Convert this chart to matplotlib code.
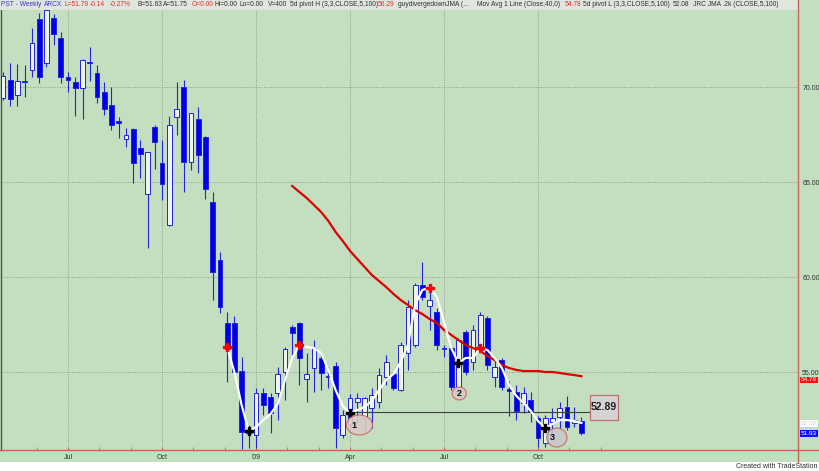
import matplotlib
matplotlib.use("Agg")
import matplotlib.pyplot as plt
from matplotlib.patches import Rectangle, Ellipse
from matplotlib.lines import Line2D
import matplotlib.transforms as mtransforms

plt.rcParams['font.family'] = ['Liberation Sans', 'DejaVu Sans']

# weekly OHLC, PST (Apr 2008 .. Nov 2009)
opens = [69.42, 70.37, 69.58, 70.32, 70.89, 73.58, 71.26, 73.63, 72.58, 70.53,
         70.26, 69.95, 71.32, 70.74, 69.74, 69.05, 68.20, 67.26, 67.79, 66.79,
         64.37, 67.90, 66.00, 62.74, 68.42, 70.00, 66.05, 68.30, 67.37, 63.95,
         60.89, 57.58, 57.58, 55.05, 51.95, 51.68, 53.90, 53.68, 53.90, 55.00,
         57.37, 57.58, 54.63, 55.21, 55.74, 54.79, 55.32, 51.68, 52.26, 53.42,
         52.58, 53.10, 53.42, 54.74, 54.90, 54.05, 56.00, 56.42, 59.58, 58.47,
         58.16, 56.26, 56.26, 54.21, 57.10, 55.53, 56.16, 57.84, 54.74, 55.63,
         54.10, 53.95, 53.37, 53.53, 52.58, 51.26, 52.37, 52.63, 53.16, 52.32,
         52.42]
highs = [70.79, 71.26, 71.20, 71.16, 73.10, 73.90, 74.20, 73.84, 72.90, 70.79,
         70.53, 71.45, 72.10, 71.16, 70.26, 70.00, 68.42, 67.84, 67.84, 67.20,
         66.60, 68.00, 67.20, 68.50, 70.26, 70.37, 68.65, 68.95, 67.40, 64.47,
         61.32, 58.16, 57.95, 55.79, 52.20, 54.16, 54.16, 53.90, 55.26, 56.32,
         57.47, 57.63, 56.00, 56.68, 56.05, 55.26, 55.53, 53.00, 53.84, 53.90,
         53.68, 54.16, 55.21, 55.90, 55.00, 56.58, 58.79, 59.70, 60.79, 59.42,
         58.37, 56.42, 56.37, 56.79, 57.20, 57.47, 58.16, 57.95, 55.63, 55.74,
         54.53, 54.32, 54.20, 53.95, 52.70, 52.74, 53.10, 53.42, 53.74, 53.16,
         52.63]
lows = [69.32, 69.00, 69.00, 69.47, 70.53, 70.20, 71.05, 72.20, 70.20, 69.74,
        68.47, 68.30, 70.30, 69.16, 68.53, 67.74, 67.32, 66.84, 64.95, 65.20,
        61.53, 65.68, 64.05, 62.70, 67.47, 64.47, 65.63, 65.47, 64.10, 58.80,
        58.10, 54.47, 54.84, 50.95, 51.00, 51.00, 52.74, 51.79, 52.47, 53.53,
        55.90, 54.30, 53.42, 53.95, 54.05, 54.16, 51.00, 51.53, 51.84, 52.32,
        51.95, 52.05, 53.10, 54.32, 54.05, 54.00, 55.10, 56.30, 58.80, 57.20,
        56.16, 55.80, 54.05, 54.20, 54.84, 55.10, 56.05, 55.10, 54.21, 54.05,
        52.68, 52.47, 52.84, 52.37, 51.05, 51.05, 51.58, 51.95, 51.95, 52.10,
        51.68]
closes = [70.58, 69.37, 70.32, 70.26, 72.32, 70.53, 74.05, 72.79, 70.53, 70.37,
          69.95, 71.42, 71.26, 69.47, 68.84, 68.00, 68.12, 67.47, 66.00, 66.47,
          66.58, 67.10, 64.90, 68.00, 68.84, 66.05, 68.63, 66.42, 64.63, 60.26,
          58.42, 56.20, 55.00, 51.84, 51.80, 53.90, 53.26, 52.84, 54.90, 56.21,
          57.05, 55.74, 54.90, 56.26, 54.95, 54.74, 52.05, 52.74, 53.63, 53.63,
          53.63, 53.79, 54.84, 55.53, 54.16, 56.42, 58.42, 59.58, 58.95, 58.79,
          56.42, 56.20, 54.21, 56.68, 55.00, 57.20, 58.00, 55.37, 55.26, 54.21,
          54.00, 52.95, 53.90, 52.90, 51.53, 52.58, 52.58, 53.10, 52.10, 52.47,
          51.79]

# Mov Avg 1 Line (Close,40,0), starts at bar 40
ma_start = 40
ma40 = [64.79, 64.47, 64.16, 63.79, 63.42, 62.95, 62.37, 61.89, 61.37, 60.95,
        60.53, 60.11, 59.79, 59.47, 59.11, 58.79, 58.53, 58.26, 58.05, 57.79,
        57.58, 57.21, 56.95, 56.68, 56.42, 56.26, 56.11, 55.84, 55.63, 55.37,
        55.21, 55.11, 55.05, 55.05, 55.05, 55.00, 55.00, 54.95, 54.89, 54.84,
        54.78]

# JRC JMA line, starts at bar 31
jma_start = 31
jma = [56.32, 55.00, 53.26, 51.89, 52.11, 52.47, 52.79, 53.32, 54.58, 55.74,
       56.42, 56.32, 56.26, 56.00, 55.11, 54.05, 53.21, 52.84, 53.00, 53.16,
       53.47, 54.05, 54.58, 54.89, 55.53, 56.42, 58.53, 59.32, 59.42, 58.95,
       57.63, 56.26, 55.47, 55.74, 55.74, 56.26, 56.16, 55.74, 55.21, 54.32,
       53.74, 53.37, 52.95, 52.42, 52.05, 52.26, 52.47, 52.47, 52.42, 52.32]

pivot_high_idx = [31, 41, 59, 66]
pivot_low_idx = [34, 48, 63, 75]

support_level = 52.89
support_from = 48
support_to = 84.9

# circled labels 1,2,3 (centre bar, centre value, width, height)
circle_labels = ['1', '2', '3']
circle_x = [49.3, 63.1, 76.6]
circle_y = [52.21, 53.87, 51.55]
circle_w = [3.6, 1.95, 2.8]
circle_h = [1.05, 0.68, 1.0]

quarter_pos = [9, 22, 35, 48, 61, 74]
quarter_labels = ['Jul', 'Oct', "'09", 'Apr', 'Jul', 'Oct']
month_pos = [4.7, 13.3, 17.7, 26.3, 30.7, 39.3, 43.7, 52.3, 56.7, 65.3, 69.7, 78.3, 82.7]
price_ticks = [55, 60, 65, 70]

BG = '#c3dfc0'
BLUE = '#0000e6'
EDGE = '#c8645a'

fig = plt.figure(figsize=(8.2, 4.71), dpi=100)
fig.patch.set_facecolor(BG)
ax = fig.add_axes([1 / 820, 21 / 471, 797 / 820, 450 / 471])
ax.set_facecolor(BG)
ax.set_xlim(-0.28, 109.96)
ax.set_ylim(50.895, 74.579)

# grid
for p in price_ticks:
    ax.axhline(p, color='#8c9c8c', lw=0.7, ls=(0, (1, 1.5)), zorder=0)
for q in quarter_pos:
    ax.axvline(q, color='#8c9c8c', lw=0.7, ls=(0, (1, 1.5)), zorder=0)

# candles
for i in range(len(opens)):
    o, h, l, c = opens[i], highs[i], lows[i], closes[i]
    ax.vlines(i, l, h, color='#2424d8', lw=0.8, zorder=2)
    up = c > o
    bottom = min(o, c)
    height = max(abs(c - o), 0.07)
    ax.bar(i, height, bottom=bottom, width=0.66,
           color='#eef4ec' if up else BLUE, edgecolor='#2424d8',
           linewidth=0.7, zorder=3)

# moving average and JMA
ax.plot(range(ma_start, ma_start + len(ma40)), ma40, color='#e00000', lw=1.6, zorder=4)
jx = list(range(jma_start, jma_start + len(jma)))
ax.plot(jx, jma, color='white', lw=1.6, zorder=5)
ax.plot(pivot_high_idx, [jma[i - jma_start] for i in pivot_high_idx], 'P',
        color='#ff0000', ms=5.5, zorder=6)
ax.plot(pivot_low_idx, [jma[i - jma_start] for i in pivot_low_idx], 'P',
        color='black', ms=5.5, zorder=6)

# support line and value box
ax.plot([support_from, support_to], [support_level, support_level],
        color='#404040', lw=0.8, zorder=4)
ax.add_patch(Rectangle((81.2, support_level - 0.4), 3.8, 1.3,
                       facecolor='#d4d4d4', edgecolor='#c07070', lw=0.9, zorder=6))
ax.text(83.1, support_level + 0.25, f'{support_level:.2f}', ha='center', va='center',
        fontsize=7.5, fontweight='bold', color='#202020', zorder=7)

for lab, cx, cy, w, hgt in zip(circle_labels, circle_x, circle_y, circle_w, circle_h):
    fc = '#c8c8c8' if lab == '3' else '#d9c9c6'
    ax.add_patch(Ellipse((cx, cy), w, hgt, facecolor=fc, edgecolor='#d06060',
                         lw=0.8, alpha=0.9, zorder=6))
    tx = cx - w * 0.2 if lab != '2' else cx
    ax.text(tx, cy, lab, ha='center', va='center', fontsize=6.5,
            fontweight='bold', color='#101010', zorder=7)

# axes styling
for s in ['top', 'right', 'bottom']:
    ax.spines[s].set_visible(False)
ax.spines['left'].set_color('#505050')
ax.spines['left'].set_linewidth(1.0)

ax.set_xticks(quarter_pos)
ax.set_xticklabels(quarter_labels)
ax.set_xticks(month_pos, minor=True)
ax.tick_params(axis='x', which='major', length=2, color=EDGE, direction='in',
               labelsize=5, labelcolor='#303030', pad=3)
ax.tick_params(axis='x', which='minor', length=2, color=EDGE, direction='in')

ax.set_yticks(price_ticks)
ax.set_yticklabels([f'{p:.2f}' for p in price_ticks])
ax.yaxis.tick_right()
ax.tick_params(axis='y', length=0, labelsize=5, labelcolor='#303030', pad=3)

# right value flags (the MA flag sits just under the 55.00 label)
trans = mtransforms.blended_transform_factory(ax.transAxes, ax.transData)
flags = [(54.58, '54.78', '#ff1010', 'white'),
         (52.29, '52.08', 'white', '#d0d0d0'),
         (51.76, '51.93', '#1010ee', 'white')]
for val, txt, fc, tc in flags:
    ax.text(1.0035, val, txt, transform=trans, ha='left', va='center', fontsize=4.6,
            color=tc, clip_on=False,
            bbox=dict(boxstyle='square,pad=0.12', fc=fc, ec='none'))

# frame lines across the figure
fig.add_artist(Line2D([0, 1], [21 / 471, 21 / 471], color=EDGE, lw=1.0))
fig.add_artist(Line2D([798 / 820, 798 / 820], [9 / 471, 1], color=EDGE, lw=1.0))
fig.add_artist(Rectangle((0, 0), 1, 9 / 471, transform=fig.transFigure,
                         facecolor='white', edgecolor='none'))
fig.text(0.997, 4.5 / 471, 'Created with TradeStation', ha='right', va='center',
         fontsize=5, color='#303030')

# header strip
fig.add_artist(Rectangle((0, 1 - 10 / 471), 798 / 820, 10 / 471, transform=fig.transFigure,
                         facecolor='#dfe6dd', edgecolor='none'))
header = [(1, 'PST - Weekly', '#3a3ac8'), (44, 'ARCX', '#3a3ac8'),
          (65, 'L=51.79', '#e03030'), (90, '-0.14', '#e03030'), (110, '-0.27%', '#e03030'),
          (138, 'B=51.63', '#303030'), (163, 'A=51.75', '#303030'),
          (192, 'O=0.00', '#e03030'), (215, 'Hi=0.00', '#303030'),
          (240, 'Lo=0.00', '#303030'), (268, 'V=400', '#303030'),
          (290, '5d pivot H (3,3,CLOSE,5,100)', '#303030'), (378, '56.29', '#e03030'),
          (398, 'guydivergedownJMA (...', '#303030'),
          (477, 'Mov Avg 1 Line (Close,40,0)', '#303030'), (565, '54.78', '#e03030'),
          (583, '5d pivot L (3,3,CLOSE,5,100)', '#303030'), (673, '52.08', '#303030'),
          (693, 'JRC JMA .2k (CLOSE,5,100)', '#303030')]
for px, txt, col in header:
    fig.text(px / 820, 1 - 5 / 471, txt, ha='left', va='center', fontsize=4.8, color=col)

fig.savefig('out.png', dpi=100, facecolor=BG)
